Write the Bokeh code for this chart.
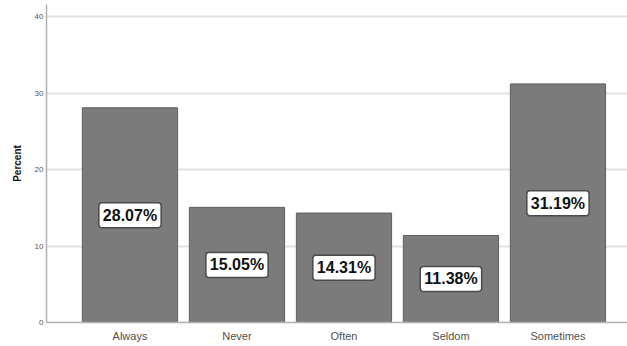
from bokeh.plotting import figure
from bokeh.models import ColumnDataSource, Label, Range1d, FixedTicker
from bokeh.embed import file_html
from bokeh.resources import INLINE

categories = ["Always", "Never", "Often", "Seldom", "Sometimes"]
percent = [28.07, 15.05, 14.31, 11.38, 31.19]
y_ticks = [0, 10, 20, 30, 40]

xs = list(range(1, len(categories) + 1))
src = ColumnDataSource(dict(x=xs, top=percent))

p = figure(width=627, height=346, output_backend="svg", toolbar_location=None,
           x_range=Range1d(0.2196, 5.65), y_range=Range1d(0, 41.57),
           min_border_left=46, min_border_right=0, min_border_top=4, min_border_bottom=24)
p.outline_line_color = None
p.background_fill_color = "white"

p.vbar(x="x", top="top", width=0.89, bottom=0, source=src,
       fill_color="#7b7b7b", line_color="#5f5f5f", line_width=1)

for x, v in zip(xs, percent):
    p.add_layout(Label(x=x, y=v / 2, text=f"{v:.2f}%",
                       text_align="center", text_baseline="middle",
                       text_font="Liberation Sans", text_font_style="bold",
                       text_font_size="16px", text_color="#111111",
                       background_fill_color="white",
                       border_line_color="#4a4a4a", border_line_width=1.5,
                       padding=4, border_radius=3))

p.xaxis.ticker = FixedTicker(ticks=xs)
p.xaxis.major_label_overrides = {i: c for i, c in zip(xs, categories)}
p.xaxis.major_tick_line_color = None
p.xaxis.minor_tick_line_color = None
p.xaxis.major_tick_out = 0
p.xaxis.major_tick_in = 0
p.xaxis.minor_tick_out = 0
p.xaxis.axis_line_color = "#b0b0b0"
p.xaxis.axis_line_width = 1.5
p.xaxis.major_label_text_font = "Liberation Sans"
p.xaxis.major_label_text_font_size = "11px"
p.xaxis.major_label_text_color = "#505050"
p.xaxis.major_label_standoff = 7

p.yaxis.ticker = FixedTicker(ticks=y_ticks)
p.yaxis.major_tick_line_color = None
p.yaxis.minor_tick_line_color = None
p.yaxis.major_tick_out = 0
p.yaxis.major_tick_in = 0
p.yaxis.minor_tick_out = 0
p.yaxis.axis_line_color = "#b0b0b0"
p.yaxis.axis_line_width = 1.5
p.yaxis.major_label_text_font = "Liberation Sans"
p.yaxis.major_label_text_font_size = "8px"
p.yaxis.major_label_text_color = "#555555"
p.yaxis.major_label_standoff = 3
p.yaxis.axis_label = "Percent"
p.yaxis.axis_label_text_font = "Liberation Sans"
p.yaxis.axis_label_text_font_style = "bold"
p.yaxis.axis_label_text_font_size = "10px"
p.yaxis.axis_label_text_color = "#111111"
p.yaxis.axis_label_standoff = 9

p.xgrid.grid_line_color = None
p.ygrid.ticker = FixedTicker(ticks=[10, 20, 30, 40])
p.ygrid.grid_line_color = "#e2e2e2"
p.ygrid.grid_line_width = 2

open("out.html", "w").write(file_html(p, INLINE))
